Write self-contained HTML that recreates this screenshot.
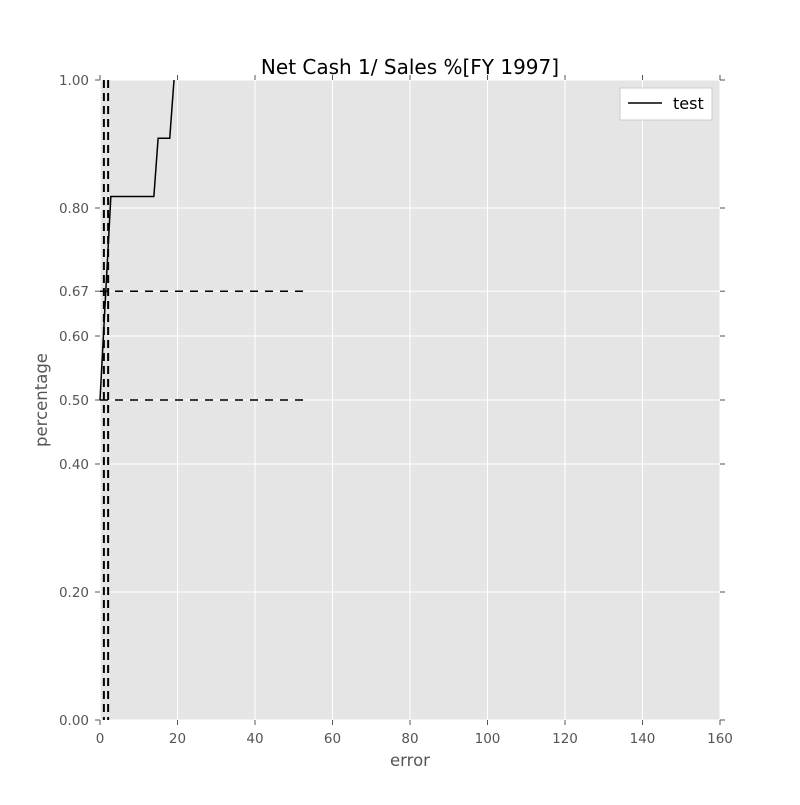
<!DOCTYPE html>
<html><head><meta charset="utf-8"><style>
body{margin:0;background:#fff;}
svg text{font-family:"DejaVu Sans","Liberation Sans",sans-serif;}
</style></head><body>
<svg id="chart" width="800" height="800" xmlns="http://www.w3.org/2000/svg">
<rect width="800" height="800" fill="#fff"/>
<rect x="100" y="80" width="620" height="640" fill="#e5e5e5"/>
<g id="grid"></g>
<g id="ticks"></g>
<g id="marks"></g>
<text x="410" y="74" font-size="20" text-anchor="middle">Net Cash 1/ Sales %[FY 1997]</text>
<text x="410" y="766" font-size="16.5" text-anchor="middle" fill="#555">error</text>
<text transform="translate(47,400) rotate(-90)" font-size="16.5" text-anchor="middle" fill="#555">percentage</text>
<g>
<rect x="620" y="88" width="92" height="32" fill="#fff" stroke="#ccc"/>
<line x1="628" y1="103" x2="662" y2="103" stroke="#000" stroke-width="1.5"/>
<text x="673" y="109" font-size="16">test</text>
</g>
</svg>
<script>
const xTicks=[0,20,40,60,80,100,120,140,160];
const yTicks=[0,0.2,0.4,0.5,0.6,0.67,0.8,1.0];
const yTickLabels=["0.00","0.20","0.40","0.50","0.60","0.67","0.80","1.00"];
const seriesX=[0,2.8,13.9,15,18,19.1];
const seriesY=[0.5,0.818,0.818,0.909,0.909,1.0];
const vLinesX=[1.0,2.1];
const hLinesY=[0.5,0.67];
const hLinesEnd=53;
const X=v=>100+v*620/160, Y=v=>720-v*640;
const NS="http://www.w3.org/2000/svg";
function mk(parent,tag,attrs){const e=document.createElementNS(NS,tag);for(const k in attrs)e.setAttribute(k,attrs[k]);document.getElementById(parent).appendChild(e);return e;}
xTicks.forEach(t=>{
 const g=mk('grid','line',{x1:X(t),x2:X(t),y1:80,y2:720,stroke:'#fff','stroke-width':1});
 
 
 mk('ticks','line',{x1:X(t),x2:X(t),y1:720,y2:725,stroke:'#555'});
 mk('ticks','line',{x1:X(t),x2:X(t),y1:75,y2:80,stroke:'#555'});
 const l=mk('ticks','text',{x:X(t),y:743,'font-size':13.5,'text-anchor':'middle',fill:'#555'});
 l.textContent=t;
 
 
});
yTicks.forEach((t,i)=>{
 const g=mk('grid','line',{x1:100,x2:720,y1:Y(t),y2:Y(t),stroke:'#fff','stroke-width':1});
 
 
 mk('ticks','line',{x1:95,x2:100,y1:Y(t),y2:Y(t),stroke:'#555'});
 mk('ticks','line',{x1:720,x2:725,y1:Y(t),y2:Y(t),stroke:'#555'});
 const l=mk('ticks','text',{x:89,y:Y(t)+5,'font-size':13.5,'text-anchor':'end',fill:'#555'});
 l.textContent=yTickLabels[i];
 
 
});
vLinesX.forEach(v=>{
 const l=mk('marks','line',{x1:X(v),x2:X(v),y1:80,y2:720,stroke:'#000','stroke-width':2,'stroke-dasharray':'8,5'});
 
 
});
hLinesY.forEach(v=>{
 const l=mk('marks','line',{x1:X(0),x2:X(hLinesEnd),y1:Y(v),y2:Y(v),stroke:'#000','stroke-width':1.5,'stroke-dasharray':'8,7'});
 
 
});
const p=mk('marks','polyline',{points:seriesX.map((x,i)=>X(x)+','+Y(seriesY[i])).join(' '),fill:'none',stroke:'#000','stroke-width':1.5});


</script>
</body></html>
